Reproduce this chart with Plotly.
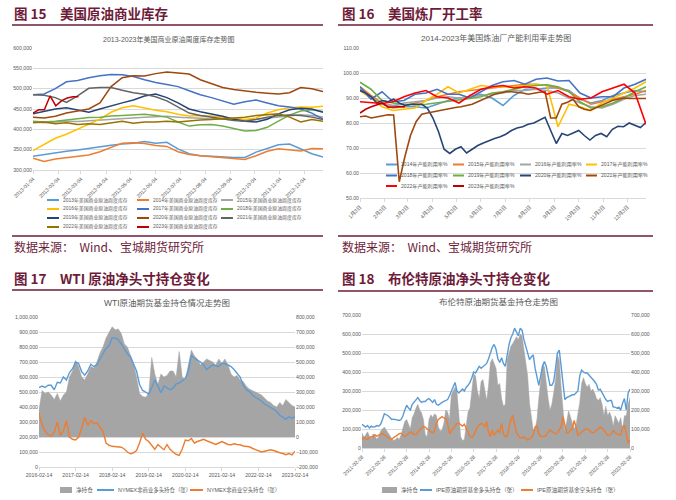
import pandas as pd
import plotly.graph_objects as go

# ======================= DATA =======================
# ---- 图15 美国商业原油周度库存 (千桶) ----
inv_tick_labels = ["2013-01-04", "2013-02-04", "2013-03-04", "2013-04-04", "2013-05-04", "2013-06-04",
                   "2013-07-04", "2013-08-04", "2013-09-04", "2013-10-04", "2013-11-04", "2013-12-04"]
inv_dates = pd.date_range("2013-01-04", "2013-12-27", periods=27)
inv_dates_2023 = pd.date_range("2013-01-04", periods=9, freq="7D")
inv_names = ["2013年美国商业原油周度库存", "2014年美国商业原油周度库存", "2015年美国商业原油周度库存",
             "2016年美国商业原油周度库存", "2017年美国商业原油周度库存", "2018年美国商业原油周度库存",
             "2019年美国商业原油周度库存", "2020年美国商业原油周度库存", "2021年美国商业原油周度库存",
             "2022年美国商业原油周度库存", "2023年美国商业原油周度库存"]
inv_2013 = [334, 338, 343, 346, 349, 353, 358, 361, 364, 366, 370, 366, 368, 352, 340, 335, 334, 332, 331, 331, 344, 353, 362, 364, 352, 340, 332]
inv_2014 = [329, 321, 327, 330, 333, 337, 345, 355, 366, 367, 365, 360, 358, 345, 338, 335, 333, 330, 329, 326, 335, 346, 352, 350, 347, 353, 352]
inv_2015 = [418, 416, 418, 420, 419, 421, 423, 425, 427, 428, 430, 431, 432, 430, 428, 427, 426, 425, 424, 423, 425, 428, 431, 434, 436, 434, 430]
inv_2016 = [348, 362, 378, 388, 400, 414, 425, 442, 453, 458, 452, 447, 443, 437, 433, 434, 433, 430, 426, 424, 428, 440, 448, 453, 455, 454, 457]
inv_2017 = [485, 487, 500, 517, 520, 527, 532, 535, 534, 530, 522, 515, 510, 505, 495, 485, 478, 470, 462, 468, 472, 465, 458, 455, 450, 440, 425]
inv_2018 = [420, 418, 420, 423, 426, 429, 430, 433, 434, 436, 437, 434, 430, 418, 408, 411, 412, 408, 402, 396, 397, 405, 420, 435, 445, 448, 444]
inv_2019 = [438, 444, 450, 453, 448, 442, 450, 458, 465, 472, 482, 487, 478, 465, 450, 443, 438, 432, 425, 420, 418, 425, 438, 448, 452, 450, 442]
inv_2020 = [430, 428, 432, 440, 445, 450, 465, 505, 527, 532, 531, 537, 541, 538, 536, 522, 512, 503, 498, 494, 491, 489, 487, 490, 503, 500, 493]
inv_2021 = [485, 484, 478, 466, 482, 501, 503, 503, 496, 490, 486, 480, 470, 455, 440, 434, 430, 425, 422, 420, 424, 430, 434, 435, 434, 430, 424]
inv_2022 = [416, 418, 414, 416, 412, 414, 412, 416, 420, 415, 418, 418, 420, 418, 421, 423, 424, 426, 428, 430, 434, 436, 438, 430, 418, 424, 420]
inv_2023 = [440, 448, 448, 482, 458, 470, 477, 480, 480]

# ---- 图16 美国炼油厂产能利用率 (%) ----
util_tick_vals = ["2022-01-03", "2022-02-03", "2022-03-03", "2022-04-03", "2022-05-03", "2022-06-03",
                  "2022-07-03", "2022-08-03", "2022-09-03", "2022-10-03", "2022-11-03", "2022-12-03"]
util_tick_labels = ["1月3日", "2月3日", "3月3日", "4月3日", "5月3日", "6月3日",
                    "7月3日", "8月3日", "9月3日", "10月3日", "11月3日", "12月3日"]
util_dates = pd.date_range("2022-01-03", "2022-12-26", periods=27)
util_weeks = pd.date_range("2022-01-03", periods=52, freq="7D")
util_names = ["2014年产能利用率%", "2015年产能利用率%", "2016年产能利用率%", "2017年产能利用率%",
              "2018年产能利用率%", "2019年产能利用率%", "2020年产能利用率%", "2021年产能利用率%",
              "2022年产能利用率%", "2023年产能利用率%"]
util_2014 = [93.5, 90.0, 87.5, 87.0, 86.5, 86.5, 86.0, 87.5, 89.0, 90.0, 90.5, 91.5, 90.0, 87.0, 91.0, 93.5, 93.5, 94.0, 94.0, 93.0, 89.5, 88.0, 89.0, 91.0, 92.0, 93.0, 92.5]
util_2015 = [94.5, 91.0, 88.0, 86.0, 86.5, 88.0, 89.0, 90.5, 91.5, 92.5, 93.0, 93.5, 94.0, 94.5, 95.0, 95.5, 95.5, 95.0, 94.0, 92.5, 90.0, 87.5, 88.5, 89.5, 90.5, 91.5, 93.0]
util_2016 = [93.0, 90.0, 87.5, 87.0, 88.0, 88.5, 89.0, 90.0, 90.5, 90.0, 90.5, 91.0, 91.5, 92.0, 93.0, 93.0, 93.5, 93.0, 92.0, 90.0, 88.0, 86.5, 86.0, 87.5, 89.5, 91.0, 91.5]
util_2017 = [93.0, 90.0, 86.5, 85.0, 85.5, 86.0, 89.0, 91.5, 94.5, 92.0, 93.5, 95.0, 94.5, 94.5, 94.5, 95.0, 95.5, 95.0, 78.5, 87.5, 86.5, 85.0, 88.0, 90.0, 92.0, 94.0, 96.5]
util_2018 = [94.5, 89.5, 92.5, 88.5, 89.0, 91.5, 92.0, 93.5, 91.5, 91.5, 90.0, 92.5, 95.0, 96.5, 97.0, 95.5, 97.5, 98.0, 96.8, 97.0, 92.0, 90.0, 90.5, 90.5, 94.0, 95.5, 97.5]
util_2019 = [96.3, 93.5, 89.0, 88.0, 87.5, 87.2, 87.5, 88.0, 88.5, 89.0, 89.8, 90.5, 92.0, 92.5, 93.5, 94.5, 95.0, 95.3, 94.5, 92.5, 88.5, 86.0, 86.5, 88.0, 90.0, 92.5, 94.5]
util_2020 = [93.0, 92.0, 90.5, 88.0, 89.0, 88.5, 89.5, 88.0, 87.0, 87.5, 87.5, 87.5, 86.0, 82.0, 76.5, 69.5, 67.8, 69.5, 70.5, 68.0,
             69.5, 71.0, 72.0, 73.0, 73.8, 74.5, 75.5, 77.0, 78.0, 78.5, 79.5, 80.0, 81.0, 82.3, 77.0, 71.8, 75.8, 75.0, 76.0, 77.0,
             75.0, 73.2, 75.0, 75.8, 74.5, 77.5, 78.7, 78.5, 80.0, 79.0, 78.2, 80.2]
util_2021 = [82.5, 82.8, 82.0, 82.5, 83.0, 83.3, 83.2, 56.5, 66.5, 75.0, 80.5, 83.5, 84.0, 84.5, 85.0, 85.3, 85.8, 86.2, 86.5, 87.0,
             87.5, 88.5, 89.5, 90.5, 91.5, 92.0, 92.5, 92.5, 92.3, 92.0, 91.5, 92.0, 92.3, 92.5, 82.0, 82.0, 87.5, 88.3, 89.5, 86.5,
             85.5, 85.0, 86.0, 87.0, 88.0, 89.0, 89.5, 90.0, 89.8, 89.8, 89.8, 89.8]
util_2022 = [88.5, 88.0, 87.8, 88.5, 90.5, 92.0, 93.0, 90.5, 90.0, 88.0, 91.0, 93.5, 94.5, 95.0, 94.0, 94.5, 94.0, 91.5, 93.0, 90.5, 89.5, 90.0, 92.5, 94.0, 95.5, 92.0, 79.5]
util_2023 = [84.0, 85.5, 86.5, 87.3, 88.0, 86.3, 86.5, 86.5, 86.5]

# ---- 图17 WTI原油期货基金持仓 (千张) ----
wti_tick_labels = ["2016-02-14", "2017-02-14", "2018-02-14", "2019-02-14",
                   "2020-02-14", "2021-02-14", "2022-02-14", "2023-02-14"]
wti_dates = pd.date_range("2016-02-14", "2023-02-14", periods=85)
wti_net = [180, 310, 290, 300, 280, 250, 290, 240, 280, 300, 400, 440, 510, 470, 400, 380, 420, 470, 460, 500,
           560, 600, 660, 700, 735, 715, 720, 690, 620, 600, 540, 490, 400, 290, 270, 265, 290, 530, 420, 350,
           420, 400, 410, 440, 440, 400, 570, 400, 380, 470, 580, 540, 520, 480, 500, 520, 510, 500, 480, 520,
           490, 520, 480, 420, 400, 410, 380, 370, 340, 320, 310, 300, 290, 280, 260, 240, 230, 210, 200, 230,
           210, 250, 230, 210, 200]
wti_long = [530, 540, 530, 545, 545, 515, 565, 560, 600, 580, 630, 655, 700, 690, 636, 612, 640, 685, 670, 680,
            720, 760, 790, 810, 860, 860, 850, 820, 785, 755, 735, 690, 640, 550, 510, 500, 485, 530, 580, 540,
            495, 540, 525, 515, 525, 555, 560, 575, 590, 640, 745, 725, 715, 700, 680, 650, 665, 680, 675, 670,
            690, 690, 680, 670, 650, 625, 600, 545, 515, 505, 480, 465, 455, 440, 420, 410, 395, 385, 370, 345,
            332, 318, 335, 325, 336]
wti_short = [360, 280, 240, 215, 205, 230, 300, 210, 240, 310, 200, 185, 180, 200, 260, 330, 280, 310, 290, 295,
             265, 240, 160, 145, 138, 135, 133, 132, 120, 100, 88, 95, 110, 160, 225, 185, 170, 140, 118, 150,
             130, 115, 150, 118, 100, 85, 78, 120, 180, 175, 190, 160, 170, 180, 185, 175, 165, 155, 150, 160,
             170, 160, 150, 148, 155, 150, 148, 140, 140, 135, 125, 115, 105, 100, 105, 110, 115, 110, 100, 95,
             90, 82, 90, 80, 105]

# ---- 图18 布伦特原油期货基金持仓 (千张) ----
brent_tick_labels = ["2011-02-28", "2012-02-28", "2013-02-28", "2014-02-28", "2015-02-28", "2016-02-28", "2017-02-28",
                     "2018-02-28", "2019-02-28", "2020-02-28", "2021-02-28", "2022-02-28", "2023-02-28"]
brent_dates = pd.date_range("2011-02-28", "2023-02-28", periods=145)
brent_net = [80, 55, 70, 85, 60, 50, 75, 65, 45, 60, 90, 100, 110, 95, 80, 60, 50, 40, 45, 55,
             45, 70, 110, 140, 150, 120, 100, 160, 180, 210, 230, 200, 185, 150, 70, 60, 150, 175, 160, 180,
             170, 110, 90, 95, 130, 200, 190, 150, 280, 300, 320, 300, 160, 60, 40, 45, 120, 190, 210, 300,
             390, 380, 300, 260, 350, 360, 300, 250, 330, 450, 470, 446, 420, 330, 340, 260, 220, 230, 460, 500,
             535, 550, 570, 586, 570, 600, 590, 516, 470, 380, 235, 160, 95, 100, 150, 260, 360, 440, 428, 330,
             260, 200, 230, 290, 360, 490, 460, 320, 200, 90, 140, 195, 165, 130, 100, 120, 180, 240, 340, 370,
             340, 320, 335, 300, 310, 290, 260, 250, 265, 230, 170, 220, 170, 190, 165, 115, 170, 150, 130, 160,
             100, 170, 170, 230, 265]
brent_long = [125, 115, 110, 118, 105, 115, 110, 112, 118, 115, 125, 150, 180, 175, 170, 160, 150, 152, 150, 145,
              145, 150, 170, 200, 225, 210, 200, 230, 240, 255, 265, 250, 240, 245, 245, 255, 260, 250, 240, 255,
              230, 225, 235, 240, 245, 250, 255, 275, 300, 325, 345, 300, 290, 300, 310, 300, 320, 330, 345, 370,
              400, 395, 410, 430, 420, 430, 435, 445, 470, 500, 530, 545, 520, 470, 450, 475, 445, 430, 500, 545,
              580, 600, 630, 605, 590, 630, 620, 570, 535, 490, 465, 480, 490, 420, 370, 330, 380, 430, 455, 430,
              380, 330, 330, 350, 420, 500, 515, 430, 340, 255, 265, 270, 275, 280, 280, 290, 300, 380, 410, 400,
              395, 395, 385, 375, 360, 350, 335, 305, 310, 290, 270, 255, 245, 250, 250, 215, 215, 210, 215, 200,
              235, 260, 200, 290, 310]
brent_short = [42, 55, 48, 45, 55, 60, 58, 70, 62, 68, 72, 77, 70, 60, 55, 50, 45, 55, 60, 68,
               75, 78, 70, 60, 68, 78, 85, 80, 70, 72, 85, 95, 105, 112, 110, 100, 95, 85, 80, 90,
               130, 150, 160, 165, 158, 155, 130, 75, 90, 105, 115, 128, 130, 120, 115, 125, 105, 85, 60, 55,
               65, 90, 110, 120, 130, 125, 110, 140, 80, 60, 95, 65, 80, 95, 80, 130, 75, 60, 60, 100,
               150, 172, 120, 80, 65, 55, 52, 58, 50, 42, 50, 55, 70, 110, 115, 75, 60, 60, 62, 65,
               85, 95, 85, 80, 75, 80, 95, 112, 165, 125, 80, 80, 95, 100, 145, 110, 68, 75, 85, 95,
               100, 100, 95, 85, 80, 85, 95, 100, 110, 105, 92, 75, 68, 68, 75, 92, 80, 75, 70, 68,
               110, 120, 75, 25, 42]

# ======================= STYLE =======================
W, H = 676, 500
MAROON = "#6e1b39"
GRID = "#d9d9d9"
TXT = "#595959"
NUM = "Liberation Sans, Noto Sans CJK SC, sans-serif"
CJK = "Noto Sans CJK SC, sans-serif"
PALETTE = ["#5b9bd5", "#ed7d31", "#a5a5a5", "#ffc000", "#4472c4", "#70ad47",
           "#264478", "#9e480e", "#636363", "#997300", "#c00000"]
UTIL_COLORS = ["#5b9bd5", "#ed7d31", "#a5a5a5", "#ffc000", "#4472c4", "#70ad47",
               "#264478", "#9e480e", "#ff0000", "#c00000"]
GRAY_AREA = "#a5a5a5"
BLUE = "#5b9bd5"
ORANGE = "#ed7d31"


def fx(x):
    return x / W


def fy(y):
    return 1 - y / H


def k(vals):
    return [v * 1000 for v in vals]


fig = go.Figure()

# ---- panel 1 traces ----
inv_series = [inv_2013, inv_2014, inv_2015, inv_2016, inv_2017, inv_2018,
              inv_2019, inv_2020, inv_2021, inv_2022]
for name, vals, col in zip(inv_names[:10], inv_series, PALETTE[:10]):
    fig.add_trace(go.Scatter(x=inv_dates, y=k(vals), name=name, mode="lines",
                             line=dict(color=col, width=1.5), xaxis="x", yaxis="y"))
fig.add_trace(go.Scatter(x=inv_dates_2023, y=k(inv_2023), name=inv_names[10], mode="lines",
                         line=dict(color=PALETTE[10], width=1.5), xaxis="x", yaxis="y"))

# ---- panel 2 traces ----
util_series = [util_2014, util_2015, util_2016, util_2017, util_2018, util_2019,
               util_2020, util_2021, util_2022]
for name, vals, col in zip(util_names[:9], util_series, UTIL_COLORS[:9]):
    xs = util_weeks if len(vals) == 52 else util_dates
    fig.add_trace(go.Scatter(x=xs, y=vals, name=name, mode="lines",
                             line=dict(color=col, width=1.6), xaxis="x2", yaxis="y2"))
fig.add_trace(go.Scatter(x=util_weeks[:len(util_2023)], y=util_2023, name=util_names[9], mode="lines",
                         line=dict(color=UTIL_COLORS[9], width=1.6), xaxis="x2", yaxis="y2"))

# ---- panel 3 traces ----
fig.add_trace(go.Scatter(x=wti_dates, y=k(wti_net), name="净持仓", mode="lines", fill="tozeroy",
                         fillcolor=GRAY_AREA, line=dict(color=GRAY_AREA, width=0.5), xaxis="x3", yaxis="y3"))
fig.add_trace(go.Scatter(x=wti_dates, y=k(wti_long), name="NYMEX非商业多头持仓（张）", mode="lines",
                         line=dict(color=BLUE, width=1.4), xaxis="x3", yaxis="y4"))
fig.add_trace(go.Scatter(x=wti_dates, y=k(wti_short), name="NYMEX非商业空头持仓（张）", mode="lines",
                         line=dict(color=ORANGE, width=1.4), xaxis="x3", yaxis="y4"))

# ---- panel 4 traces ----
fig.add_trace(go.Scatter(x=brent_dates, y=k(brent_net), name="净持仓", mode="lines", fill="tozeroy",
                         fillcolor=GRAY_AREA, line=dict(color=GRAY_AREA, width=0.5), xaxis="x4", yaxis="y5"))
fig.add_trace(go.Scatter(x=brent_dates, y=k(brent_long), name="IPE原油期货基金多头持仓（张）", mode="lines",
                         line=dict(color=BLUE, width=1.4), xaxis="x4", yaxis="y5"))
fig.add_trace(go.Scatter(x=brent_dates, y=k(brent_short), name="IPE原油期货基金空头持仓（张）", mode="lines",
                         line=dict(color=ORANGE, width=1.4), xaxis="x4", yaxis="y6"))

# ======================= DECORATION =======================
shapes = []
annotations = []


def rule(y, x0, x1):
    shapes.append(dict(type="line", xref="paper", yref="paper", x0=fx(x0), x1=fx(x1),
                       y0=fy(y), y1=fy(y), line=dict(color=MAROON, width=1.5)))


def label(x, y, s, size, color=TXT, xanchor="left", family=CJK, weight="normal"):
    annotations.append(dict(xref="paper", yref="paper", x=fx(x), y=fy(y), text=s, showarrow=False,
                            xanchor=xanchor, yanchor="middle",
                            font=dict(size=size, color=color, family=family, weight=weight)))


def key_line(x, y, color, s, length, size):
    shapes.append(dict(type="line", xref="paper", yref="paper", x0=fx(x), x1=fx(x + length),
                       y0=fy(y), y1=fy(y), line=dict(color=color, width=2)))
    label(x + length + 1.5, y, s, size, family=NUM)


def key_box(x, y, color, s, length, size):
    shapes.append(dict(type="rect", xref="paper", yref="paper", x0=fx(x), x1=fx(x + length),
                       y0=fy(y + 3), y1=fy(y - 3), line=dict(width=0), fillcolor=color))
    label(x + length + 1.5, y, s, size, family=NUM)


# headings
label(12, 13, "图 15　美国原油商业库存", 13.5, MAROON, weight="bold")
label(340, 13, "图 16　美国炼厂开工率", 13.5, MAROON, weight="bold")
label(12, 278, "图 17　WTI 原油净头寸持仓变化", 13.5, MAROON, weight="bold")
label(340, 278, "图 18　布伦特原油净头寸持仓变化", 13.5, MAROON, weight="bold")
rule(25, 12, 323)
rule(25, 338, 653)
rule(290, 12, 323)
rule(291, 338, 653)
rule(236, 12, 323)
rule(236, 338, 653)
label(12, 246, "数据来源：  Wind、宝城期货研究所", 12, MAROON)
label(340, 246, "数据来源：  Wind、宝城期货研究所", 12, MAROON)

# chart titles
label(168, 40, "2013-2023年美国商业原油周度库存走势图", 7, TXT, xanchor="center", family=NUM)
label(496, 38, "2014-2023年美国炼油厂产能利用率走势图", 8, TXT, xanchor="center", family=NUM)
label(167, 303, "WTI原油期货基金持仓情况走势图", 8.5, TXT, xanchor="center", family=NUM)
label(498, 302, "布伦特原油期货基金持仓走势图", 8.5, TXT, xanchor="center", family=NUM)

# legends panel 1
p1_cols = [47, 137, 221]
p1_rows = [200, 209, 218, 227]
for i, (name, col) in enumerate(zip(inv_names, PALETTE)):
    key_line(p1_cols[i % 3], p1_rows[i // 3], col, name, 12, 4.9)

# legends panel 2
p2_cols = [386, 453, 520, 586]
p2_rows = [164.5, 175.5, 186]
for i, (name, col) in enumerate(zip(util_names, UTIL_COLORS)):
    key_line(p2_cols[i % 4], p2_rows[i // 4], col, name, 11, 5.1)

# legends panel 3
key_box(60, 490, GRAY_AREA, "净持仓", 12, 5.6)
key_line(97, 490, BLUE, "NYMEX非商业多头持仓（张）", 17, 5.4)
key_line(190, 490, ORANGE, "NYMEX非商业空头持仓（张）", 13, 5.4)

# legends panel 4
key_box(382, 490, GRAY_AREA, "净持仓", 15, 5.6)
key_line(420, 490, BLUE, "IPE原油期货基金多头持仓（张）", 12, 5.6)
key_line(521, 490, ORANGE, "IPE原油期货基金空头持仓（张）", 12, 5.6)

tickfont = dict(size=5.2, color=TXT, family=NUM)
xcommon = dict(type="date", showgrid=False, showline=True, linecolor=GRID, linewidth=1,
               ticks="outside", ticklen=3, tickcolor=GRID, tickfont=tickfont, zeroline=False,
               automargin=False)
ycommon = dict(showgrid=True, gridcolor=GRID, gridwidth=1, zeroline=False, showline=False,
               ticks="", tickfont=tickfont, tickformat=",", automargin=False)

fig.update_layout(
    width=W, height=H, margin=dict(l=0, r=0, t=0, b=0, pad=0, autoexpand=False), autosize=False,
    paper_bgcolor="white", plot_bgcolor="white", showlegend=False,
    font=dict(family=NUM, color=TXT),
    shapes=shapes, annotations=annotations,
    xaxis=dict(xcommon, domain=[fx(33), fx(323)], anchor="y", range=["2013-01-04", "2013-12-27"],
               tickvals=inv_tick_labels, ticktext=inv_tick_labels, tickangle=-45),
    yaxis=dict(ycommon, domain=[fy(170), fy(48)], anchor="x", range=[300000, 600000], dtick=50000),
    xaxis2=dict(xcommon, domain=[fx(360), fx(646)], anchor="y2", range=["2022-01-03", "2022-12-26"],
                tickvals=util_tick_vals, ticktext=util_tick_labels, tickangle=-45),
    yaxis2=dict(ycommon, domain=[fy(198), fy(48)], anchor="x2", range=[50, 110], dtick=10, tickformat=".2f"),
    xaxis3=dict(xcommon, domain=[fx(39), fx(295)], anchor="y3", range=["2016-02-14", "2023-02-14"],
                tickvals=wti_tick_labels, ticktext=wti_tick_labels, tickangle=0),
    yaxis3=dict(ycommon, domain=[fy(467), fy(317)], anchor="x3", side="right",
                range=[-200000, 800000], dtick=100000),
    yaxis4=dict(ycommon, anchor="x3", overlaying="y3", side="left", showgrid=False,
                range=[0, 1000000], dtick=100000),
    xaxis4=dict(xcommon, domain=[fx(362), fx(630)], anchor="y5", range=["2011-02-28", "2023-02-28"],
                tickvals=brent_tick_labels, ticktext=brent_tick_labels, tickangle=-45),
    yaxis5=dict(ycommon, domain=[fy(448), fy(315)], anchor="x4", side="left",
                range=[0, 700000], dtick=100000),
    yaxis6=dict(ycommon, anchor="x4", overlaying="y5", side="right", showgrid=False,
                range=[0, 700000], dtick=100000),
)

fig.write_html("out.html", config={"displayModeBar": False},
               post_script="document.body.style.margin='0';document.body.style.overflow='hidden';")
